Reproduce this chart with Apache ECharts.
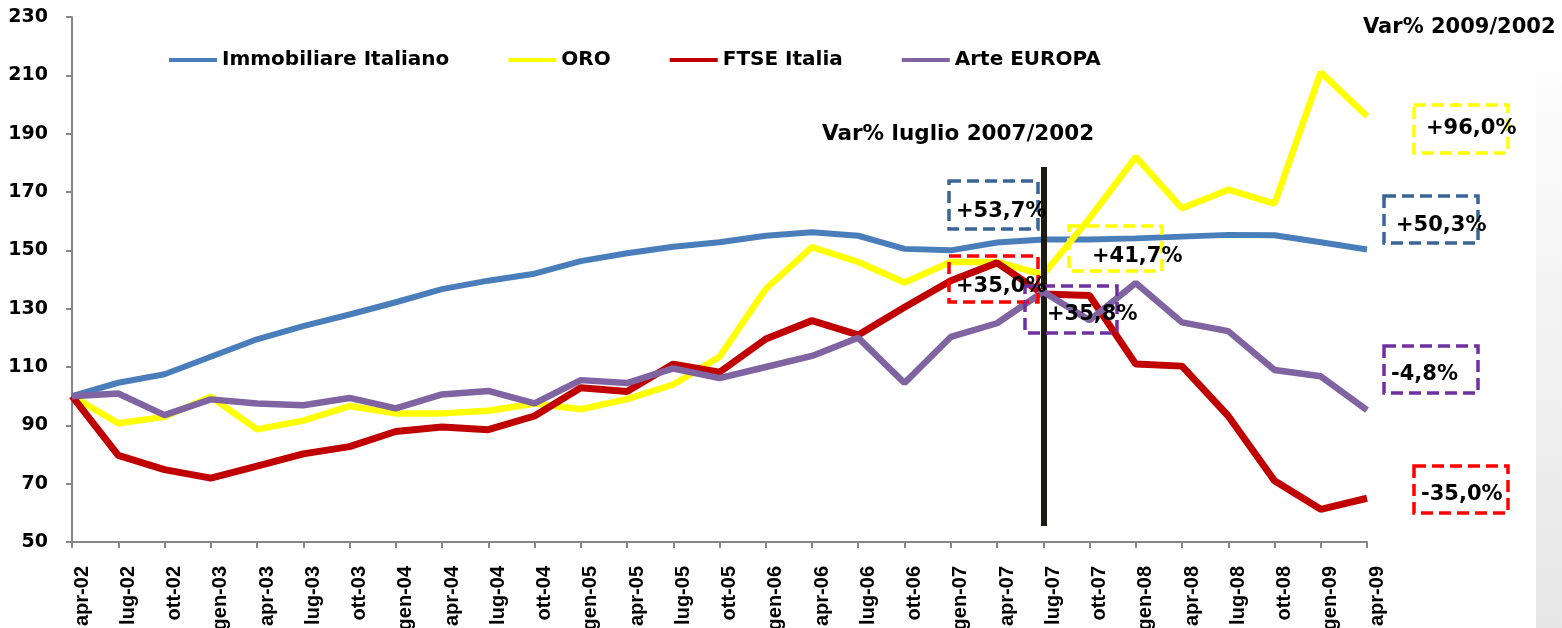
<!DOCTYPE html>
<html><head><meta charset="utf-8">
<script src="https://cdn.jsdelivr.net/npm/echarts@6/dist/echarts.min.js"></script>
<style>html,body{margin:0;padding:0;background:#fff}#c{width:1562px;height:628px}</style>
</head><body><div id="c"></div>
<script>
// ---- data ----
const categories = ['apr-02','lug-02','ott-02','gen-03','apr-03','lug-03','ott-03','gen-04','apr-04','lug-04','ott-04','gen-05','apr-05','lug-05','ott-05','gen-06','apr-06','lug-06','ott-06','gen-07','apr-07','lug-07','ott-07','gen-08','apr-08','lug-08','ott-08','gen-09','apr-09'];
const immobiliare = [100,104.6,107.5,113.5,119.5,124,128,132.2,136.7,139.6,142,146.3,149,151.2,152.8,155,156.2,155,150.5,150,152.7,153.7,153.7,154.1,154.7,155.3,155.2,152.8,150.3];
const oro = [100,90.7,92.9,99.8,88.6,91.6,96.6,94.1,94.1,95,97.5,95.5,99,104,113.5,136.8,151.1,146,139,146,146,141.7,161,182,164.4,170.8,166,211,196];
const ftse = [100,79.7,74.8,71.9,76,80.2,82.7,87.9,89.4,88.5,93.2,102.9,101.6,111,108.2,119.6,125.9,121,130.5,139.6,145.7,135,134.5,111,110.3,93.2,71,61.2,65];
const arte = [100,100.9,93.5,98.9,97.5,96.9,99.4,95.8,100.6,101.8,97.5,105.5,104.5,109.5,106.2,110,113.8,120,104.5,120.3,125,135.8,126,138.8,125.3,122.3,109,106.8,95.2];
const seriesNames = ['Immobiliare Italiano','ORO','FTSE Italia','Arte EUROPA'];
const yTicks = [50,70,90,110,130,150,170,190,210,230];
const markerCategory = 'lug-07';
const markerRange = [178.6, 55.5];
const title2007 = 'Var% luglio 2007/2002';
const title2009 = 'Var% 2009/2002';
const labels2007 = ['+53,7%','+41,7%','+35,0%','+35,8%'];
const labels2009 = ['+50,3%','+96,0%','-35,0%','-4,8%'];

// ---- styles / layout ----
const colors = ['#4a7ebb','#ffff00','#c00000','#8064a2'];
const boxColors = ['#3a6496','#ffff00','#ff0000','#7030a0'];
const hFont = 'DejaVu Sans';
// box geometry: [x, y, w, h, textX, textY]
const boxes2007 = [[949,181,89,48,956,212],[1069,226,93,45,1092,257],[949,256,89,46,956,287],[1025,286,92,47,1047,315]];
const boxes2009 = [[1384,196,94,47,1396,226],[1414,105,94,48,1426,129],[1414,466,94,47,1421,495],[1384,346,94,47,1391,375]];

const graphics = [];
graphics.push({type:'rect', silent:true, z:0, shape:{x:1536,y:60,width:26,height:568},
  style:{fill:new echarts.graphic.LinearGradient(0,0,0,1,[{offset:0,color:'rgba(245,245,245,0)'},{offset:0.15,color:'#fafafa'},{offset:1,color:'#e6e6e6'}])}});
function addBoxes(geo, texts){
  geo.forEach((g,i)=>{
    graphics.push({type:'rect', z:20, silent:true, shape:{x:g[0],y:g[1],width:g[2],height:g[3]},
      style:{fill:null, stroke:boxColors[i], lineWidth:3.5, lineDash:[12,6]}});
    graphics.push({type:'text', z:30, silent:true, style:{x:g[4], y:g[5], text:texts[i], fill:'#000',
      font:'bold 21px "'+hFont+'"', align:'left', verticalAlign:'middle'}});
  });
}
addBoxes(boxes2007, labels2007);
addBoxes(boxes2009, labels2009);
graphics.push({type:'text', z:30, silent:true, style:{x:822,y:134,text:title2007,fill:'#000',font:'bold 21.5px "'+hFont+'"',align:'left',verticalAlign:'middle'}});
graphics.push({type:'text', z:30, silent:true, style:{x:1363,y:28,text:title2009,fill:'#000',font:'bold 21px "'+hFont+'"',align:'left',verticalAlign:'middle'}});

const seriesData = [immobiliare, oro, ftse, arte];
const widths = [6,6.5,7,6.5];
const series = seriesNames.map((n,i)=>({
  name:n, type:'line', data:seriesData[i], showSymbol:false, symbol:'none', smooth:false,
  lineStyle:{color:colors[i], width:widths[i]}, itemStyle:{color:colors[i]}, z:2+i
}));
series[3].markLine = {silent:true, symbol:['none','none'], label:{show:false},
  lineStyle:{color:'#1e1b12', width:6, type:'solid'},
  data:[[{coord:[markerCategory, markerRange[0]]},{coord:[markerCategory, markerRange[1]]}]]};

const chart = echarts.init(document.getElementById('c'), null, {renderer:'canvas'});
chart.setOption({
  animation:false,
  backgroundColor:'#ffffff',
  grid:{left:72, right:195, top:17, bottom:86, containLabel:false, outerBoundsMode:'none'},
  legend:{data:seriesNames.map(n=>({name:n, icon:'rect'})), left:169, top:50, padding:0,
    itemWidth:48, itemHeight:4, itemGap:59,
    textStyle:{fontFamily:hFont, fontWeight:'bold', fontSize:20, color:'#000'}},
  xAxis:{type:'category', data:categories, boundaryGap:false,
    axisLine:{lineStyle:{color:'#868686', width:2}},
    axisTick:{show:true, length:6, lineStyle:{color:'#868686', width:2}, interval:0},
    axisLabel:{rotate:90, interval:0, margin:24, verticalAlign:'top', color:'#000', fontFamily:'Liberation Sans', fontWeight:'bold', fontSize:20},
    splitLine:{show:false}},
  yAxis:{type:'value', min:yTicks[0], max:yTicks[yTicks.length-1],
    axisLine:{show:true, lineStyle:{color:'#868686', width:2}},
    axisTick:{show:true, length:6, lineStyle:{color:'#868686', width:2}, customValues:yTicks},
    axisLabel:{margin:24, color:'#000', fontFamily:hFont, fontWeight:'bold', fontSize:19, customValues:yTicks},
    splitLine:{show:false}},
  graphic:graphics,
  series:series
});
</script></body></html>
